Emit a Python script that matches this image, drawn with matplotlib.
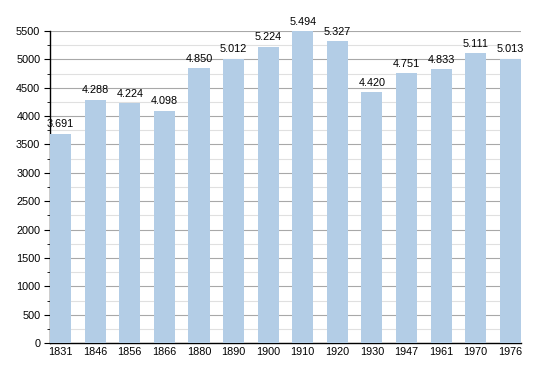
import matplotlib
matplotlib.use("Agg")
import matplotlib.pyplot as plt
from matplotlib.ticker import MultipleLocator

years = ["1831", "1846", "1856", "1866", "1880", "1890", "1900",
         "1910", "1920", "1930", "1947", "1961", "1970", "1976"]
population = [3691, 4288, 4224, 4098, 4850, 5012, 5224,
              5494, 5327, 4420, 4751, 4833, 5111, 5013]

plt.rcParams["font.family"] = ["Liberation Sans", "DejaVu Sans"]

fig = plt.figure(figsize=(5.5, 3.73), dpi=100)
ax = fig.add_axes([0.091, 0.080, 0.856, 0.837])

x = list(range(len(years)))
width = 0.61
ax.bar(x, population, width=width, color="#b3cde6", zorder=3)

for xi, v in zip(x, population):
    label = f"{v:,}".replace(",", ".")
    ax.text(xi, v + 75, label, ha="center", va="bottom", fontsize=7.8,
            zorder=4, clip_on=False)

ax.set_xlim(-width / 2, len(years) - 1 + width / 2)
ax.set_ylim(0, 5500)
ax.set_xticks(x)
ax.set_xticklabels(years)
ax.yaxis.set_major_locator(MultipleLocator(500))
ax.yaxis.set_minor_locator(MultipleLocator(250))

ax.grid(axis="y", which="major", color="#a8a8a8", linewidth=0.8, zorder=0)
ax.grid(axis="y", which="minor", color="#e0e0e0", linewidth=0.8, zorder=0)

for side in ("top", "right"):
    ax.spines[side].set_visible(False)
ax.spines["left"].set_linewidth(1.0)
ax.spines["bottom"].set_linewidth(1.0)

ax.tick_params(axis="x", length=0, labelsize=7.8, pad=3)
ax.tick_params(axis="y", which="major", length=4, labelsize=7.8, pad=3)
ax.tick_params(axis="y", which="minor", length=2)

fig.savefig("out.png", dpi=100)
